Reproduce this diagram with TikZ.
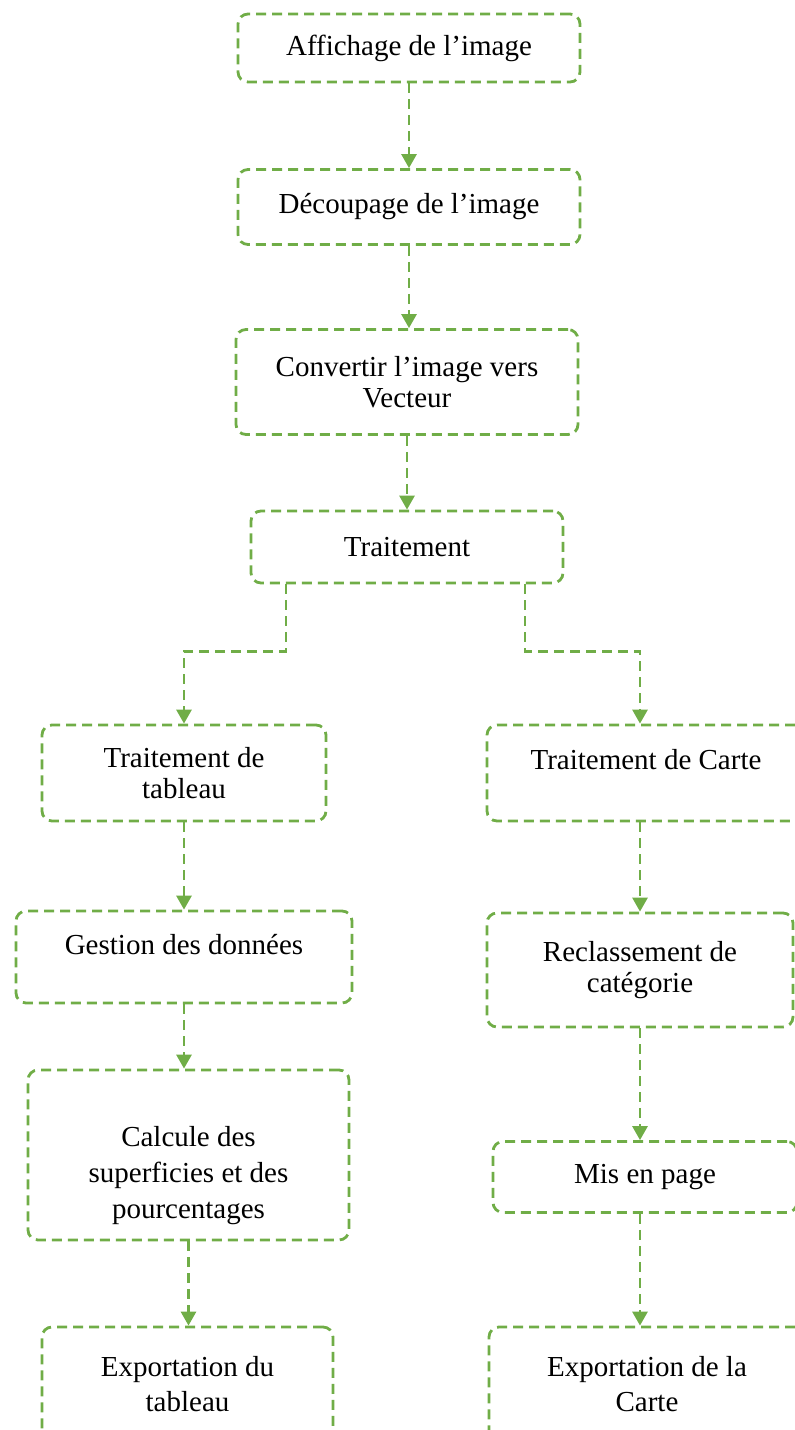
\documentclass[tikz,border=0pt]{standalone}
\usepackage{fontspec}
\setmainfont{Liberation Serif}
\usetikzlibrary{arrows.meta}

\definecolor{vert}{HTML}{70AD47}

\tikzset{
	boite/.style={draw=vert, line width=2.8pt, dash pattern=on 10pt off 6pt,
		rounded corners=10pt, align=center, inner sep=0pt,
		font=\fontsize{29}{31}\selectfont},
	lien/.style={draw=vert, line width=2.8pt, dash pattern=on 10pt off 6pt,
		-{Triangle[length=14pt,width=15pt]}}
}

\begin{document}
\begin{tikzpicture}[x=1pt, y=-1pt]
\useasboundingbox (0,0) rectangle (795,1430);
\clip (0,0) rectangle (795,1430);

% Tronc commun
\node[boite, minimum width=342, minimum height=68] (affich) at (409,48) {Affichage de l’image};
\node[boite, minimum width=342, minimum height=75] (decoup) at (409,207) {Découpage de l’image};
\node[boite, minimum width=342, minimum height=105] (conv) at (407,382) {Convertir l’image vers\\Vecteur};
\node[boite, minimum width=312, minimum height=72] (trait) at (407,547) {Traitement};

% Branche tableau
\node[boite, minimum width=284, minimum height=96] (tabl) at (184,773) {Traitement de\\tableau};
\node[boite, minimum width=336, minimum height=92] (gest) at (184,957) {Gestion des données\\[-15pt]\strut};
\node[boite, minimum width=321, minimum height=170, font=\fontsize{29}{36}\selectfont] (calc) at (188.5,1155) {\strut\\Calcule des\\superficies et des\\pourcentages};
\node[boite, minimum width=291, minimum height=114, font=\fontsize{29}{35}\selectfont] (exptab) at (187.5,1384) {Exportation du\\tableau};

% Branche carte
\node[boite, minimum width=318, minimum height=96] (carte) at (646,773) {Traitement de Carte\\[-13pt]\strut};
\node[boite, minimum width=306, minimum height=114] (recl) at (640,970) {Reclassement de\\catégorie};
\node[boite, minimum width=304, minimum height=71] (mise) at (645,1177) {Mis en page};
\node[boite, minimum width=316, minimum height=114, font=\fontsize{29}{35}\selectfont] (expcar) at (647,1384) {Exportation de la\\Carte};

% Fleches
\draw[lien] (affich.south) -- (affich.south |- decoup.north);
\draw[lien] (decoup.south) -- (decoup.south |- conv.north);
\draw[lien] (conv.south) -- (trait.north);
\draw[lien] ([xshift=-121pt]trait.south) -- ++(0,67) -| (tabl.north);
\draw[lien] ([xshift=118pt]trait.south) -- ++(0,67) -| (recl.north |- carte.north);
\draw[lien] (tabl.south) -- (gest.north);
\draw[lien] (gest.south) -- (gest.south |- calc.north);
\draw[lien] (calc.south) -- (calc.south |- exptab.north);
\draw[lien] (recl.north |- carte.south) -- (recl.north);
\draw[lien] (recl.south) -- (recl.south |- mise.north);
\draw[lien] (recl.south |- mise.south) -- (recl.south |- expcar.north);
\end{tikzpicture}
\end{document}
